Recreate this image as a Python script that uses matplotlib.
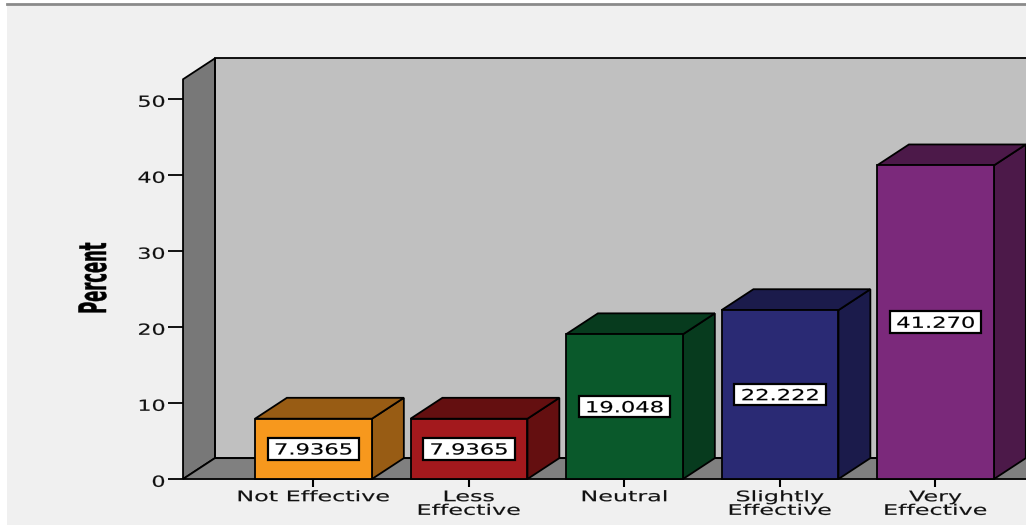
import matplotlib
matplotlib.use("Agg")
import matplotlib.pyplot as plt
import matplotlib.patheffects as pe
from matplotlib.patches import Polygon, Rectangle
from matplotlib.lines import Line2D
from matplotlib.transforms import Affine2D

# survey responses, percent of respondents
categories = ["Not Effective", "Less\nEffective", "Neutral", "Slightly\nEffective", "Very\nEffective"]
percent = [7.9365, 7.9365, 19.048, 22.222, 41.270]
front_colors = ["#f7981d", "#a3191d", "#0a592b", "#2a2a74", "#7b297b"]
shade_colors = ["#985c14", "#640f10", "#073b1e", "#1b1b4b", "#4c1949"]
yticks = [0, 10, 20, 30, 40, 50]

# 3-D box geometry in data units (category index / percent)
HW = 0.376            # half width of a bar front
DX, DY = 0.205, 2.75  # depth offset of the box
X0, X1 = -0.839, 4.839
ZTOP = 52.6
EDGE = dict(edgecolor="black", linewidth=1.3, joinstyle="miter")


class Stretch(pe.AbstractPathEffect):
    """Scale glyph outlines along / across the baseline around an anchor,
    optionally thickening them with a thin outline."""

    def __init__(self, sx=1.0, sy=1.0, anchor=0.5, stroke=0.0):
        super().__init__()
        self.sx, self.sy, self.anchor, self.stroke = sx, sy, anchor, stroke

    def draw_path(self, renderer, gc, tpath, affine, rgbFace=None):
        ext = tpath.get_extents()
        cx = ext.x0 + self.anchor * ext.width
        cy = ext.y0 + 0.5 * ext.height
        t = Affine2D().translate(-cx, -cy).scale(self.sx, self.sy).translate(cx, cy)
        gc0 = renderer.new_gc()
        gc0.copy_properties(gc)
        if self.stroke and rgbFace is not None:
            gc0.set_foreground(rgbFace)
            gc0.set_linewidth(self.stroke)
        renderer.draw_path(gc0, tpath, t + affine, rgbFace)
        gc0.restore()


WIDE = [Stretch(1.56, sy=0.95, stroke=0.12)]
WIDE_R = [Stretch(1.45, anchor=1.0, stroke=0.12)]
NUM = [Stretch(1.48, stroke=0.12)]

fig = plt.figure(figsize=(10.26, 5.25), dpi=100, facecolor="white")
fig.add_artist(Rectangle((7 / 1026, 0), 1, 520 / 525, transform=fig.transFigure,
                         facecolor="#f0f0f0", edgecolor="none", zorder=-5))
fig.add_artist(Line2D([7 / 1026, 1], [521 / 525, 521 / 525], transform=fig.transFigure,
                      color="#8a8a8a", lw=2))
ax = fig.add_axes([0, 0, 1, 1])
ax.set_xlim(-2.016, 4.582)
ax.set_ylim(-6.05, 63.03)
ax.axis("off")
ax.patch.set_visible(False)

# walls and floor
ax.add_patch(Rectangle((X0 + DX, DY), X1 - X0, ZTOP, facecolor="#c0c0c0", **EDGE))
ax.add_patch(Polygon([(X0, 0), (X0, ZTOP), (X0 + DX, ZTOP + DY), (X0 + DX, DY)],
                     facecolor="#787878", **EDGE))
ax.add_patch(Polygon([(X0, 0), (X1, 0), (X1 + DX, DY), (X0 + DX, DY)],
                     facecolor="#808080", **EDGE))

# bars
for i, (v, fc, sc) in enumerate(zip(percent, front_colors, shade_colors)):
    ax.add_patch(Polygon([(i + HW, 0), (i + HW + DX, DY), (i + HW + DX, v + DY), (i + HW, v)],
                         facecolor=sc, **EDGE))
    ax.add_patch(Polygon([(i - HW, v), (i + HW, v), (i + HW + DX, v + DY), (i - HW + DX, v + DY)],
                         facecolor=sc, **EDGE))
    ax.add_patch(Rectangle((i - HW, 0), 2 * HW, v, facecolor=fc, **EDGE))
    # value box in the middle of the bar
    ax.add_patch(Rectangle((i - 0.295, v / 2 - 1.42), 0.59, 2.84, facecolor="white",
                           edgecolor="black", linewidth=1.6, zorder=3))
    ax.text(i, v / 2 - 0.74, f"{v:#.5g}", ha="center", va="baseline", fontsize=11,
            color="black", zorder=4, path_effects=NUM)

# y axis ticks and labels on the front edge of the side wall
for t in yticks:
    ax.plot([-0.936, X0], [t, t], color="black", lw=1.3, solid_capstyle="butt")
    ax.text(-0.955, t - 1.02, str(t), ha="right", va="baseline", fontsize=11,
            color="#111111", path_effects=WIDE_R)

# category ticks and labels
for i, name in enumerate(categories):
    ax.plot([i, i], [0, -1.05], color="black", lw=1.5, solid_capstyle="butt")
    for k, line in enumerate(name.split("\n")):
        ax.text(i, -2.95 - 1.8 * k, line, ha="center", va="baseline", fontsize=11,
                color="#111111", path_effects=WIDE)

ax.text(-1.412, 26.45, "Percent", rotation=90, ha="center", va="center", fontsize=14,
        fontweight="bold", color="black", path_effects=[Stretch(0.84, 1.95, stroke=0.3)])

fig.savefig("out.png", dpi=100, facecolor=fig.get_facecolor())
